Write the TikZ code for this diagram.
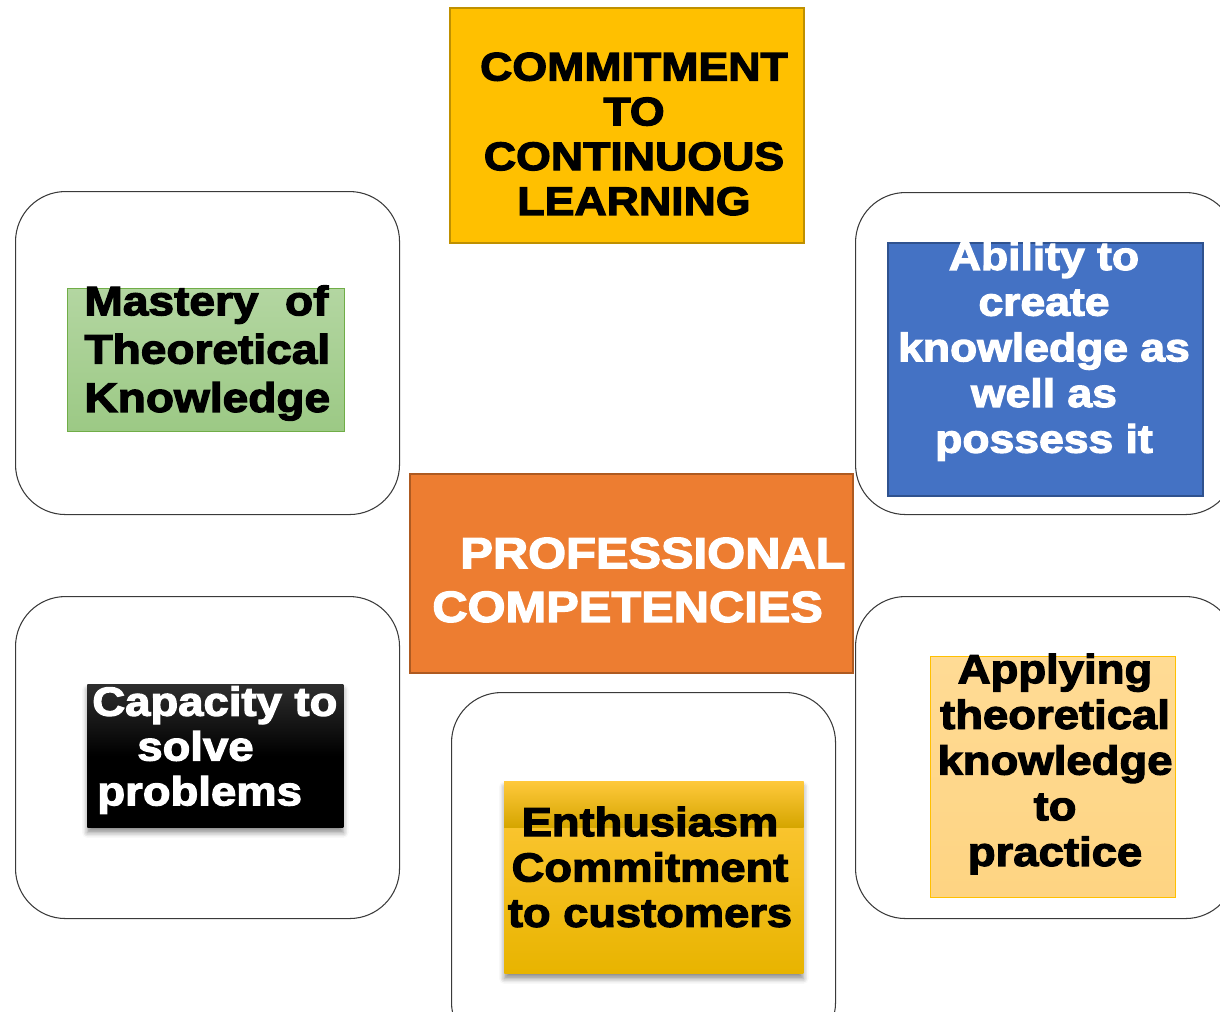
\documentclass[tikz,border=0pt]{standalone}
\usepackage{fontspec}
\usepackage{tikz}
\usetikzlibrary{shadows.blur}
\usepackage{xcolor}
\newfontfamily\heavy{Liberation Sans}[FakeStretch=1.12, BoldFeatures={FakeBold=3}]
\definecolor{gold}{HTML}{FFC000}
\definecolor{golddark}{HTML}{BF9000}
\definecolor{rust}{HTML}{ED7D31}
\definecolor{rustdark}{HTML}{AE5A21}
\definecolor{sagetop}{HTML}{B3D6A1}
\definecolor{sagebot}{HTML}{9CC985}
\definecolor{leaf}{HTML}{70AD47}
\definecolor{royal}{HTML}{4472C4}
\definecolor{royaldark}{HTML}{2F528F}
\definecolor{peachtop}{HTML}{FFDB95}
\definecolor{peachbot}{HTML}{FED482}
\definecolor{ambertop}{HTML}{FFC93C}
\definecolor{amberbot}{HTML}{E8B400}
\definecolor{framegray}{HTML}{3A3A3A}
\newcommand{\cardfont}[2]{\heavy\bfseries\fontsize{#1}{#2}\selectfont}

\begin{document}
\begin{tikzpicture}[
  cardframe/.style={
    rectangle,
    draw=framegray,
    line width=0.6pt,
    rounded corners=1cm,
    anchor=north west
  },
  cardbox/.style={
    rectangle,
    anchor=north west,
    inner sep=0pt
  },
  cardtext/.style={
    inner sep=0pt,
    align=center
  }
  ]
  \useasboundingbox (0,0) rectangle (24.4,-20.22);
  \clip (0,0) rectangle (24.4,-20.22);

  % outer frames
  \node[cardframe, minimum width=7.68cm, minimum height=6.46cm] (frame-tl) at (0.30,-3.82) {};
  \node[cardframe, minimum width=7.6cm, minimum height=6.44cm] (frame-tr) at (17.10,-3.84) {};
  \node[cardframe, minimum width=7.68cm, minimum height=6.44cm] (frame-bl) at (0.30,-11.92) {};
  \node[cardframe, minimum width=7.6cm, minimum height=6.44cm] (frame-br) at (17.10,-11.92) {};
  \node[cardframe, minimum width=7.68cm, minimum height=7.2cm] (frame-bc) at (9.02,-13.84) {};

  % continuous learning
  \begin{scope}
    \node[cardbox, fill=gold, draw=golddark, line width=1pt,
      minimum width=7.08cm, minimum height=4.70cm] (learning) at (8.98,-0.14) {};
    \node[cardtext, font=\cardfont{22.7pt}{25.5pt}] (learning-txt) at (12.68,-2.68)
      {COMMITMENT\\TO\\CONTINUOUS\\LEARNING};
  \end{scope}

  % professional competencies
  \begin{scope}
    \node[cardbox, fill=rust, draw=rustdark, line width=1pt,
      minimum width=8.86cm, minimum height=3.98cm] (competencies) at (8.18,-9.46) {};
    \node[cardtext, align=left, anchor=west, text=white, font=\cardfont{24.8pt}{30.6pt}]
      (competencies-txt) at (8.64,-11.6) {\hspace{0.56cm}PROFESSIONAL\\COMPETENCIES};
  \end{scope}

  % theoretical knowledge
  \begin{scope}
    \node[cardbox, top color=sagetop, bottom color=sagebot, draw=leaf, line width=0.6pt,
      minimum width=5.54cm, minimum height=2.86cm] (mastery) at (1.34,-5.76) {};
    \node[cardtext, align=left, text width=4.88cm, font=\cardfont{23.4pt}{27.5pt}]
      (mastery-txt) at (4.13,-7.06) {Mastery\hfill of\\Theoretical\\Knowledge};
  \end{scope}

  % create knowledge
  \begin{scope}
    \node[cardbox, fill=royal, draw=royaldark, line width=1pt,
      minimum width=6.30cm, minimum height=5.06cm] (ability) at (17.74,-4.84) {};
    \node[cardtext, text=white, font=\cardfont{22.6pt}{26pt}] (ability-txt) at (20.88,-7.02)
      {Ability to\\create\\knowledge as\\well as\\possess it};
  \end{scope}

  % solve problems
  \begin{scope}
    \node[cardbox, top color=black!82, bottom color=black, middle color=black,
      blur shadow={shadow xshift=0pt, shadow yshift=-3pt, shadow blur radius=3pt, shadow opacity=45},
      minimum width=5.12cm, minimum height=2.86cm] (capacity) at (1.74,-13.68) {};
    \node[cardtext, align=left, anchor=west, text=white, font=\cardfont{23.1pt}{25.5pt}]
      (capacity-txt) at (1.84,-15.0) {Capacity to\\\hspace{0.9cm}solve\\\hspace{0.1cm}problems};
  \end{scope}

  % customers
  \begin{scope}
    \node[cardbox, top color=ambertop, bottom color=amberbot,
      blur shadow={shadow xshift=0pt, shadow yshift=-3pt, shadow blur radius=3pt, shadow opacity=45},
      minimum width=5.98cm, minimum height=3.84cm] (enthusiasm) at (10.08,-15.62) {};
    \shade[top color=ambertop, bottom color=amberbot!92!black]
      (enthusiasm.north west) rectangle ([yshift=-0.92cm]enthusiasm.north east);
    \node[cardtext, font=\cardfont{23pt}{25.8pt}] (enthusiasm-txt) at (13.0,-17.34)
      {Enthusiasm\\Commitment\\to customers};
  \end{scope}

  % practice
  \begin{scope}
    \node[cardbox, top color=peachtop, bottom color=peachbot, draw=gold, line width=0.6pt,
      minimum width=4.90cm, minimum height=4.82cm] (applying) at (18.6,-13.12) {};
    \node[cardtext, font=\cardfont{23.1pt}{26pt}] (applying-txt) at (21.1,-15.28)
      {Applying\\theoretical\\knowledge\\to\\practice};
  \end{scope}

\end{tikzpicture}
\end{document}
